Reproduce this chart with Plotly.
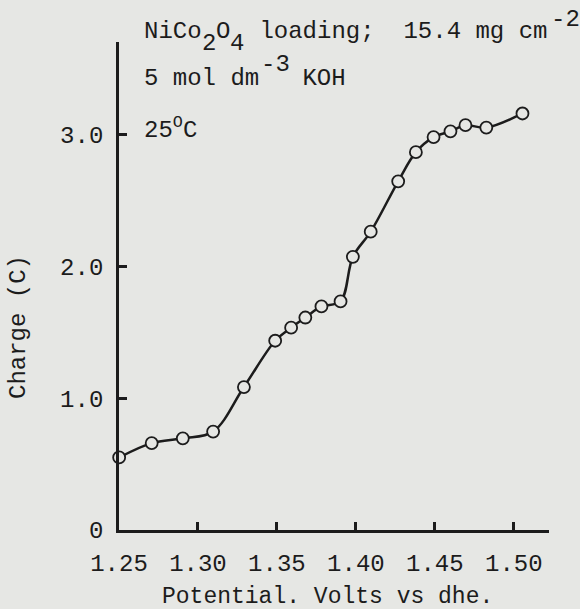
import plotly.graph_objects as go

# Data
potential = [1.2501, 1.2707, 1.2904, 1.3096, 1.3291, 1.3489, 1.3590, 1.3680, 1.3782, 1.3903,
             1.3981, 1.4094, 1.4268, 1.4380, 1.4492, 1.4599, 1.4694, 1.4826, 1.5055]
charge = [0.550, 0.659, 0.695, 0.746, 1.084, 1.435, 1.534, 1.611, 1.695, 1.733,
          2.071, 2.262, 2.644, 2.865, 2.979, 3.023, 3.069, 3.051, 3.158]

x_ticks = [1.25, 1.30, 1.35, 1.40, 1.45, 1.50]
x_tick_labels = ["1.25", "1.30", "1.35", "1.40", "1.45", "1.50"]
y_ticks = [0, 1, 2, 3]
y_tick_labels = ["0", "1.0", "2.0", "3.0"]

BG = "#e6e7e4"
INK = "#1c1c1c"
FONT = "Liberation Mono, Courier New, monospace"
FS = 24

W, H = 580, 609
L, R, T, B = 119, 549, 42, 530  # plot area in pixels


def px(xp):
    return (xp - L) / (R - L)


def py(yp):
    return (B - yp) / (B - T)


fig = go.Figure()
fig.add_trace(go.Scatter(
    x=potential, y=charge, mode="lines+markers",
    line=dict(color=INK, width=2.5, shape="spline", smoothing=1.0),
    marker=dict(size=12, color=BG, line=dict(color=INK, width=1.8)),
    cliponaxis=False, showlegend=False, hoverinfo="skip",
))

annots = []


def txt(s, xp, yp, size=FS):
    annots.append(dict(text=s, xref="paper", yref="paper", x=px(xp), y=py(yp),
                       xanchor="left", yanchor="middle", showarrow=False,
                       font=dict(family=FONT, size=size, color=INK)))


CW = 14.4
X0 = 142
# line 1
txt("NiCo", X0, 31)
txt("2", X0 + 4 * CW, 44)
txt("O", X0 + 5 * CW, 31)
txt("4", X0 + 6 * CW, 44)
txt(" loading;  15.4 mg cm", X0 + 7 * CW, 31)
txt("-2", X0 + 28 * CW + 4, 20)
# line 2
txt("5 mol dm", X0, 79)
txt("-3", X0 + 8 * CW + 2, 65)
txt(" KOH", X0 + 10 * CW, 79)
# line 3
txt("25<sup>O</sup>C", X0, 128)

# axis titles
annots.append(dict(text="Charge (C)", xref="paper", yref="paper", x=px(18), y=py(327),
                   xanchor="center", yanchor="middle", showarrow=False, textangle=-90,
                   font=dict(family=FONT, size=FS, color=INK)))
annots.append(dict(text="Potential. Volts vs dhe.", xref="paper", yref="paper", x=px(327), y=py(597),
                   xanchor="center", yanchor="middle", showarrow=False,
                   font=dict(family=FONT, size=23, color=INK)))

fig.update_layout(
    width=W, height=H,
    margin=dict(l=L, r=W - R, t=T, b=H - B, pad=0),
    paper_bgcolor=BG, plot_bgcolor=BG,
    annotations=annots,
    font=dict(family=FONT, size=FS, color=INK),
)
fig.update_xaxes(
    range=[1.25, 1.5223], tickvals=x_ticks, ticktext=x_tick_labels,
    showline=True, linecolor=INK, linewidth=2.8, showgrid=False, zeroline=False,
    ticks="inside", ticklen=8, tickwidth=2.5, tickcolor=INK,
    ticklabelstandoff=9, tickfont=dict(family=FONT, size=FS, color=INK),
)
fig.update_yaxes(
    range=[0, 3.70], tickvals=y_ticks, ticktext=y_tick_labels,
    showline=True, linecolor=INK, linewidth=2.8, showgrid=False, zeroline=False,
    ticks="inside", ticklen=8, tickwidth=2.5, tickcolor=INK,
    ticklabelstandoff=8, tickfont=dict(family=FONT, size=FS, color=INK),
)

fig.write_html("out.html")
